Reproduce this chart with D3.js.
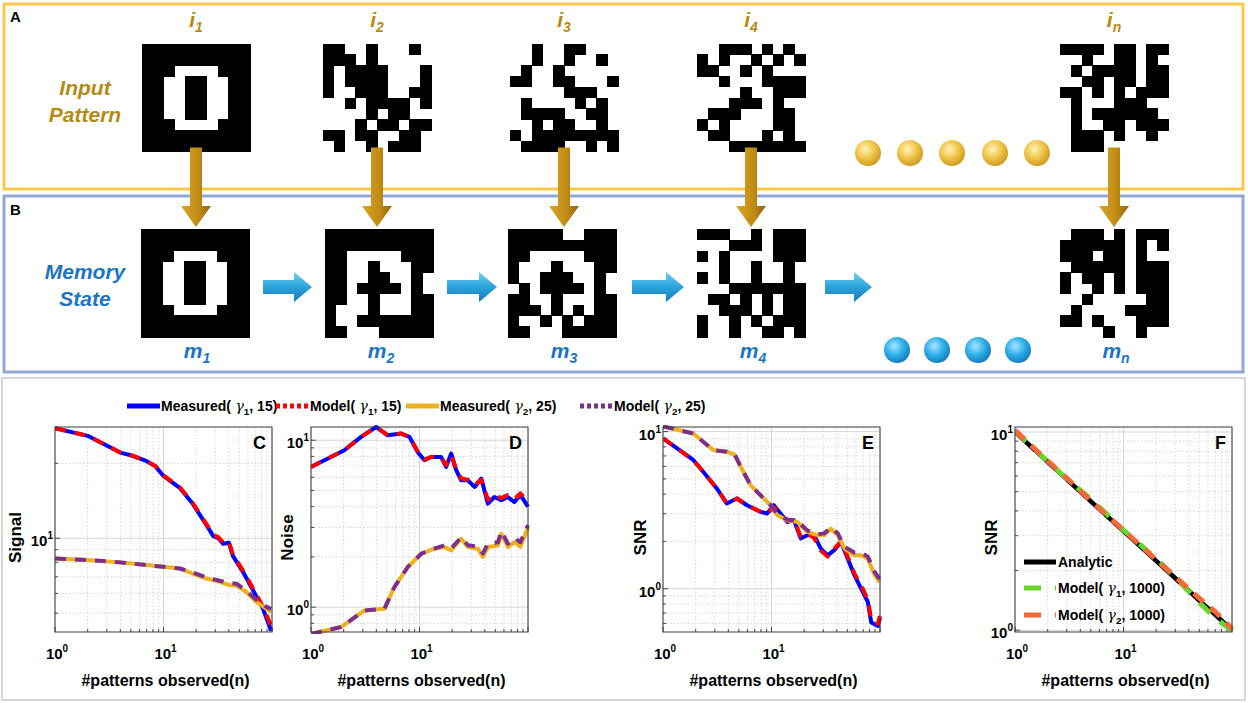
<!DOCTYPE html>
<html>
<head>
<meta charset="utf-8">
<script src="https://cdn.jsdelivr.net/npm/d3@7"></script>
<style>
  body { margin: 0; background: #fff; }
  svg { display: block; }
</style>
</head>
<body>
<script>
// ---- pixel patterns (1 = black cell) ----
const patI1 = ["1111111111","1111111111","1110000111","1100110011","1100110011","1100110011","1100110011","1110000111","1111111111","1111111111"];
const patI2 = ["1100100010","1110100000","1011110001","1011110001","1001110011","0010111101","0000101100","0001011011","1101100110","0100101110"];
const patI3 = ["0010011000","0010010010","0100100000","1100110001","0000011100","0100001010","0111100110","0010110010","1011111111","0111100101"];
const patI4 = ["0011101010","1010010101","1100101000","0010001111","0000100111","0001110100","0111000110","1010000110","0110001010","0001111111"];
const patIn = ["1111011011","0010011010","0101111011","0011011011","1101010111","0100011100","0101111110","0100110111","0111010010","0111000000"];
const patM1 = patI1;
const patM2 = ["1111111111","1111111111","1100000111","1100100011","1100110010","1101111010","1100100011","1000100011","1001111111","1100011111"];
const patM3 = ["1111100111","1111111111","1100000111","1000100011","1001110010","0101111010","1100100011","1110101011","1001010111","1100011111"];
const patM4 = ["1110010111","0001110111","1010000111","0010010010","1010010010","0001111111","0110101011","0011101011","1001010111","1001001101"];
const patMn = ["0111010111","1111110101","1110110100","0111110111","1011010111","1001010111","0010000011","0100001111","1101000111","0000100100"];

const topPatterns = [patI1, patI2, patI3, patI4, patIn];
const botPatterns = [patM1, patM2, patM3, patM4, patMn];
const topLabels = ["1", "2", "3", "4", "n"];

// ---- chart data ----
const cN1 = [1, 2, 4, 5.3, 7, 8.4, 10, 14.2, 18.3, 24.9, 28.8, 32, 35.5, 40, 43.6, 54.2, 66.7, 82.7, 98];
const cMeas1 = [27.7, 25.8, 22.1, 21.4, 20.4, 19.5, 17.8, 15.9, 13.9, 11.3, 10.2, 10.0, 9.5, 9.6, 8.5, 7.3, 6.2, 5.2, 4.25];
const cModel1 = [27.7, 25.8, 22.1, 21.4, 20.4, 19.5, 17.9, 16.0, 14.0, 11.4, 10.3, 10.1, 9.6, 9.7, 8.6, 7.4, 6.3, 5.3, 4.45];
const cN2 = [1, 2, 4, 7, 10, 14.2, 18.3, 24.9, 33, 41, 47, 58, 72, 89, 98];
const cMeas2 = [8.30, 8.17, 8.0, 7.8, 7.68, 7.56, 7.22, 6.89, 6.68, 6.47, 6.45, 6.08, 5.54, 5.21, 5.05];
const cModel2 = [8.30, 8.17, 8.0, 7.8, 7.68, 7.56, 7.30, 6.95, 6.75, 6.60, 6.57, 6.15, 5.65, 5.30, 5.20];

const dN1 = [1, 2.03, 2.89, 3.98, 5.1, 6.77, 8.08, 9.6, 11.1, 12.8, 15.8, 17.6, 19.6, 21.8, 24.2, 27.9, 32.3, 37.1, 42.7, 49, 56.8, 65.1, 75, 85, 100];
const dMeas1 = [6.92, 8.71, 10.47, 12.0, 10.7, 10.96, 10.47, 8.51, 7.59, 7.94, 7.94, 6.92, 8.32, 6.61, 5.75, 5.75, 5.25, 5.89, 4.17, 4.57, 4.37, 4.57, 4.26, 4.7, 4.0];
const dModel1 = [6.92, 8.71, 10.47, 12.0, 10.7, 10.96, 10.47, 8.60, 7.65, 7.94, 7.90, 7.10, 8.10, 6.70, 5.90, 5.80, 5.40, 5.80, 4.40, 4.70, 4.50, 4.70, 4.45, 4.8, 4.3];
const dN2 = [1, 1.89, 3.11, 4.75, 5.87, 7.8, 10.4, 13.7, 17, 19.6, 24.2, 27.9, 34.5, 38.4, 42.7, 52.9, 56.8, 65.4, 75, 85, 100];
const dMeas2 = [0.69, 0.76, 0.955, 0.977, 1.32, 1.74, 2.09, 2.24, 2.29, 2.19, 2.57, 2.29, 2.24, 1.995, 2.29, 2.34, 2.75, 2.29, 2.45, 2.3, 3.0];
const dModel2 = [0.69, 0.76, 0.955, 0.977, 1.32, 1.74, 2.09, 2.24, 2.35, 2.25, 2.62, 2.35, 2.30, 2.10, 2.40, 2.45, 2.85, 2.40, 2.60, 2.45, 3.1];

const eN1 = [1, 1.9, 2.35, 3.13, 3.87, 4.8, 5.95, 7.9, 9.1, 10.5, 12.1, 14, 16.1, 18.6, 21.4, 24.7, 28.5, 32.9, 37.9, 43.7, 50.4, 58.1, 67, 77.3, 83, 95.7, 100];
const eMeas1 = [9.06, 6.6, 5.55, 4.35, 3.49, 3.75, 3.4, 3.09, 3.01, 3.4, 3.01, 2.66, 2.73, 2.09, 2.19, 2.19, 1.8, 1.63, 1.76, 1.98, 1.55, 1.22, 1.0, 0.82, 0.61, 0.58, 0.65];
const eModel1 = [9.06, 6.6, 5.55, 4.35, 3.49, 3.75, 3.4, 3.09, 3.0, 3.3, 3.0, 2.70, 2.75, 2.15, 2.25, 2.10, 1.75, 1.60, 1.80, 2.00, 1.60, 1.25, 1.05, 0.85, 0.63, 0.60, 0.67];
const eN2 = [1, 1.9, 2.9, 3.87, 4.6, 5.5, 6.4, 7.9, 9.8, 11.3, 14, 17.3, 21.4, 26.4, 30.5, 35.3, 40.8, 47.1, 58.1, 67, 77.3, 89.3, 99];
const eMeas2 = [10.8, 9.73, 7.63, 7.45, 7.1, 5.55, 4.57, 3.94, 3.4, 2.94, 2.73, 2.66, 2.3, 2.19, 2.19, 2.41, 2.19, 1.8, 1.63, 1.63, 1.55, 1.22, 1.1];
const eModel2 = [10.8, 9.73, 7.63, 7.45, 7.1, 5.55, 4.57, 3.94, 3.4, 2.98, 2.76, 2.70, 2.35, 2.22, 2.25, 2.45, 2.25, 1.85, 1.70, 1.70, 1.60, 1.28, 1.15];

const fN = [1, 2, 3, 5, 10, 20, 30, 50, 70, 100];
const fAnalytic = [10, 7.07, 5.77, 4.47, 3.16, 2.24, 1.83, 1.41, 1.20, 1.00];
const fModel1 = [10.1, 7.10, 5.80, 4.60, 3.20, 2.30, 1.85, 1.38, 1.15, 1.00];
const fModel2 = [10.2, 7.15, 5.85, 4.50, 3.20, 2.27, 1.86, 1.45, 1.24, 1.02];

const xTicks = [1, 10];

// ---- page ----
const W = 1248, H = 703;
const FONT = "'Liberation Sans', Arial, sans-serif";
const gold = "#B58A14", blueTxt = "#1B75C4";

const svg = d3.select("body").append("svg")
    .attr("width", W).attr("height", H)
    .style("font-family", FONT);

const defs = svg.append("defs");
function linGrad(id, x2, y2, stops) {
    const g = defs.append("linearGradient").attr("id", id)
        .attr("x1", 0).attr("y1", 0).attr("x2", x2).attr("y2", y2);
    stops.forEach(s => g.append("stop").attr("offset", s[0]).attr("stop-color", s[1]));
}
function radGrad(id, stops) {
    const g = defs.append("radialGradient").attr("id", id)
        .attr("cx", "40%").attr("cy", "35%").attr("r", "70%");
    stops.forEach(s => g.append("stop").attr("offset", s[0]).attr("stop-color", s[1]));
}
linGrad("goldArrow", 1, 0, [[0, "#D9A624"], [0.6, "#C08A14"], [1, "#8F6410"]]);
linGrad("blueArrow", 0, 1, [[0, "#6FD0F3"], [0.5, "#2BA3DC"], [1, "#1679B8"]]);
radGrad("goldBall", [[0, "#FFF2B8"], [0.5, "#F0C64A"], [1, "#C9951A"]]);
radGrad("blueBall", [[0, "#A8E6FF"], [0.5, "#2FB1EA"], [1, "#1276B8"]]);

// panel boxes
svg.append("rect").attr("x", 4).attr("y", 4).attr("width", 1239).attr("height", 185)
    .attr("fill", "none").attr("stroke", "#F8C94A").attr("stroke-width", 3);
svg.append("rect").attr("x", 4).attr("y", 196).attr("width", 1239).attr("height", 176)
    .attr("fill", "none").attr("stroke", "#8FA8D6").attr("stroke-width", 3);
svg.append("rect").attr("x", 2).attr("y", 378).attr("width", 1243).attr("height", 322)
    .attr("fill", "none").attr("stroke", "#D6D6D6").attr("stroke-width", 2);

svg.append("text").attr("x", 10).attr("y", 22).text("A")
    .attr("font-weight", "bold").attr("font-size", 15);
svg.append("text").attr("x", 10).attr("y", 215).text("B")
    .attr("font-weight", "bold").attr("font-size", 15);

function twoLine(lines, cx, y0, color) {
    const t = svg.append("text").attr("text-anchor", "middle")
        .attr("font-weight", "bold").attr("font-style", "italic")
        .attr("font-size", 21).attr("fill", color);
    lines.forEach((s, i) => t.append("tspan").attr("x", cx).attr("y", y0 + i * 27).text(s));
}
twoLine(["Input", "Pattern"], 85, 95, gold);
twoLine(["Memory", "State"], 85, 279, blueTxt);

// pixel pattern drawing
const CELL_SIZE = 108;
function drawPattern(rows, x0, y0) {
    const band = d3.scaleBand().domain(d3.range(rows.length)).range([0, CELL_SIZE]);
    const cells = [];
    rows.forEach((r, i) => r.split("").forEach((c, j) => { if (c === "1") cells.push({ i, j }); }));
    const g = svg.append("g").attr("transform", `translate(${x0},${y0})`)
        .attr("shape-rendering", "crispEdges");
    g.selectAll("rect").data(cells).join("rect")
        .attr("x", d => band(d.j)).attr("y", d => band(d.i))
        .attr("width", band.bandwidth() + 0.6).attr("height", band.bandwidth() + 0.6)
        .attr("fill", "#000");
}

const topX = [142, 323, 510, 697, 1060];
const botX = [141, 325, 508, 697, 1060];
const topY = 43.5, botY = 229;

topPatterns.forEach((p, k) => drawPattern(p, topX[k], topY));
botPatterns.forEach((p, k) => drawPattern(p, botX[k], botY));

// gold down arrows
topX.forEach(x0 => {
    const cx = x0 + CELL_SIZE / 2;
    const p = d3.path();
    p.moveTo(cx - 6, topY + CELL_SIZE - 4);
    p.lineTo(cx + 6, topY + CELL_SIZE - 4);
    p.lineTo(cx + 6, 206);
    p.lineTo(cx + 15, 206);
    p.lineTo(cx, 227);
    p.lineTo(cx - 15, 206);
    p.lineTo(cx - 6, 206);
    p.closePath();
    svg.append("path").attr("d", p.toString()).attr("fill", "url(#goldArrow)");
});

// blue right arrows
const rightArrows = [[263, 312], [447, 497], [632, 684], [825, 872]];
rightArrows.forEach(([a, b]) => {
    const cy = 287;
    const p = d3.path();
    p.moveTo(a, cy - 7);
    p.lineTo(b - 18, cy - 7);
    p.lineTo(b - 18, cy - 15);
    p.lineTo(b, cy);
    p.lineTo(b - 18, cy + 15);
    p.lineTo(b - 18, cy + 7);
    p.lineTo(a, cy + 7);
    p.closePath();
    svg.append("path").attr("d", p.toString()).attr("fill", "url(#blueArrow)");
});

// dots
[868, 910, 952, 995, 1037].forEach(x => svg.append("circle")
    .attr("cx", x).attr("cy", 153).attr("r", 13).attr("fill", "url(#goldBall)"));
[897, 937, 978, 1018].forEach(x => svg.append("circle")
    .attr("cx", x).attr("cy", 350).attr("r", 13).attr("fill", "url(#blueBall)"));

// i / m labels
function subLabel(letter, sub, cx, y, color) {
    const t = svg.append("text").attr("x", cx).attr("y", y).attr("text-anchor", "middle")
        .attr("font-weight", "bold").attr("font-style", "italic")
        .attr("font-size", 21).attr("fill", color);
    t.append("tspan").text(letter);
    t.append("tspan").text(sub).attr("font-size", 14).attr("dy", 5);
}
topX.forEach((x0, k) => subLabel("i", topLabels[k], x0 + CELL_SIZE / 2, 27, gold));
botX.forEach((x0, k) => subLabel("m", topLabels[k], x0 + CELL_SIZE / 2 + 2, 358, blueTxt));

// ---- charts ----
const plotTop = 427, plotBottom = 632, plotW = 217;

function gammaText(t, pre, sub, post, size) {
    t.append("tspan").text(pre);
    t.append("tspan").text(" γ").attr("font-style", "italic").attr("font-weight", "normal")
        .attr("font-family", "'DejaVu Serif', serif");
    t.append("tspan").text(sub).attr("font-size", size * 0.7).attr("dy", 4);
    t.append("tspan").text(post).attr("dy", -4);
}

function powLabel(t, v) {
    t.append("tspan").text("10");
    t.append("tspan").text(String(Math.round(Math.log10(v))))
        .attr("font-size", 10).attr("dy", -7);
}

function logVals(dom) {
    const out = [];
    for (let e = -1; e <= 2; e++) {
        for (let k = 1; k < 10; k++) {
            const v = +(k * Math.pow(10, e)).toPrecision(6);
            if (v >= dom[0] - 1e-9 && v <= dom[1] + 1e-9) out.push({ v, major: k === 1 });
        }
    }
    return out;
}

let clipId = 0;
function drawChart(c) {
    const x = d3.scaleLog().domain([1, 100]).range([c.left, c.left + plotW]);
    const y = d3.scaleLog().domain(c.yDomain).range([plotBottom, plotTop]);
    const g = svg.append("g");

    // grid
    const xv = logVals(x.domain()), yv = logVals(y.domain());
    g.selectAll(".gx").data(xv).join("line")
        .attr("x1", d => x(d.v)).attr("x2", d => x(d.v))
        .attr("y1", plotTop).attr("y2", plotBottom)
        .attr("stroke", "#D6D6D6").attr("stroke-width", 1)
        .attr("stroke-dasharray", d => d.major ? null : "1.5,2");
    g.selectAll(".gy").data(yv).join("line")
        .attr("y1", d => y(d.v)).attr("y2", d => y(d.v))
        .attr("x1", c.left).attr("x2", c.left + plotW)
        .attr("stroke", "#D6D6D6").attr("stroke-width", 1)
        .attr("stroke-dasharray", d => d.major ? null : "1.5,2");

    // ticks inside
    g.selectAll(".tx").data(xv).join("line")
        .attr("x1", d => x(d.v)).attr("x2", d => x(d.v))
        .attr("y1", plotBottom).attr("y2", d => plotBottom - (d.major ? 5 : 3))
        .attr("stroke", "#444");
    g.selectAll(".ty").data(yv).join("line")
        .attr("y1", d => y(d.v)).attr("y2", d => y(d.v))
        .attr("x1", c.left).attr("x2", d => c.left + (d.major ? 5 : 3))
        .attr("stroke", "#444");

    // series
    const id = "clip" + (clipId++);
    defs.append("clipPath").attr("id", id).append("rect")
        .attr("x", c.left).attr("y", plotTop - 2).attr("width", plotW + 2).attr("height", plotBottom - plotTop + 4);
    const line = d3.line().x(d => x(d[0])).y(d => y(d[1]));
    const lg = g.append("g").attr("clip-path", `url(#${id})`);
    c.series.forEach(s => {
        lg.append("path").datum(d3.zip(s.n, s.v))
            .attr("d", line)
            .attr("fill", "none")
            .attr("stroke", s.color)
            .attr("stroke-width", s.width || 4)
            .attr("stroke-dasharray", s.dash || null)
            .attr("stroke-linejoin", "round");
    });

    // box
    g.append("rect").attr("x", c.left).attr("y", plotTop)
        .attr("width", plotW).attr("height", plotBottom - plotTop)
        .attr("fill", "none").attr("stroke", "#3a3a3a").attr("stroke-width", 1);

    // tick labels
    xTicks.forEach(v => {
        const t = g.append("text").attr("x", x(v) + 2).attr("y", plotBottom + 27)
            .attr("text-anchor", "middle").attr("font-size", 15).attr("font-weight", "bold");
        powLabel(t, v);
    });
    c.yTicks.forEach(v => {
        const t = g.append("text").attr("x", c.left - 2).attr("y", y(v) + 8)
            .attr("text-anchor", "end").attr("font-size", 15).attr("font-weight", "bold");
        powLabel(t, v);
    });

    // titles
    g.append("text").attr("x", c.left + plotW / 2 + 2).attr("y", 686)
        .attr("text-anchor", "middle").attr("font-size", 16).attr("font-weight", "bold")
        .text("#patterns observed(n)");
    g.append("text").attr("transform", `translate(${c.yLabelX},${(plotTop + plotBottom) / 2 + 8}) rotate(-90)`)
        .attr("text-anchor", "middle").attr("font-size", 17).attr("font-weight", "bold")
        .text(c.yLabel);
    g.append("text").attr("x", c.left + plotW - 6).attr("y", plotTop + 22)
        .attr("text-anchor", "end").attr("font-size", 18).attr("font-weight", "bold")
        .text(c.panel);
    return { x, y, g };
}

const BLUE = "#0000FF", RED = "#FF0000", YEL = "#EDB120", PUR = "#7E2F8E";
const GREEN = "#6BD62A", ORANGE = "#F4683A";
const DASH = "11,9";

drawChart({
    left: 55, yDomain: [4.2, 28], yTicks: [10], yLabel: "Signal", yLabelX: 21, panel: "C",
    series: [
        { n: cN1, v: cMeas1, color: BLUE },
        { n: cN1, v: cModel1, color: RED, dash: DASH },
        { n: cN2, v: cMeas2, color: YEL },
        { n: cN2, v: cModel2, color: PUR, dash: DASH }
    ]
});
drawChart({
    left: 311, yDomain: [0.71, 12], yTicks: [1, 10], yLabel: "Noise", yLabelX: 293, panel: "D",
    series: [
        { n: dN1, v: dMeas1, color: BLUE },
        { n: dN1, v: dModel1, color: RED, dash: DASH },
        { n: dN2, v: dMeas2, color: YEL },
        { n: dN2, v: dModel2, color: PUR, dash: DASH }
    ]
});
drawChart({
    left: 663, yDomain: [0.53, 10.7], yTicks: [1, 10], yLabel: "SNR", yLabelX: 646, panel: "E",
    series: [
        { n: eN1, v: eMeas1, color: BLUE },
        { n: eN1, v: eModel1, color: RED, dash: DASH },
        { n: eN2, v: eMeas2, color: YEL },
        { n: eN2, v: eModel2, color: PUR, dash: DASH }
    ]
});
const chartF = drawChart({
    left: 1015, yDomain: [0.98, 10.6], yTicks: [1, 10], yLabel: "SNR", yLabelX: 997, panel: "F",
    series: [
        { n: fN, v: fAnalytic, color: "#000", width: 4.5 },
        { n: fN, v: fModel1, color: GREEN, dash: "15,13", width: 5 },
        { n: fN, v: fModel2, color: ORANGE, dash: "13,9", width: 5 }
    ]
});

// legend inside F
const fLeg = [
    { color: "#000", dash: null, y: 562, label: ["Analytic"] },
    { color: GREEN, dash: "17,14", y: 588, label: ["Model(", "1", ", 1000)"] },
    { color: ORANGE, dash: "17,14", y: 615, label: ["Model(", "2", ", 1000)"] }
];
fLeg.forEach(it => {
    chartF.g.append("line").attr("x1", 1024).attr("x2", 1056).attr("y1", it.y).attr("y2", it.y)
        .attr("stroke", it.color).attr("stroke-width", 5).attr("stroke-dasharray", it.dash);
    const t = chartF.g.append("text").attr("x", 1058).attr("y", it.y + 5)
        .attr("font-size", 14).attr("font-weight", "bold");
    if (it.label.length === 1) t.text(it.label[0]);
    else gammaText(t, it.label[0], it.label[1], it.label[2], 14);
});

// top legend
const legendItems = [
    { color: BLUE, dash: null, pre: "Measured(", sub: "1", post: ", 15)", x: 127 },
    { color: RED, dash: "4,3", pre: "Model(", sub: "1", post: ", 15)", x: 276 },
    { color: YEL, dash: null, pre: "Measured(", sub: "2", post: ", 25)", x: 406 },
    { color: PUR, dash: "4,3", pre: "Model(", sub: "2", post: ", 25)", x: 580 }
];
legendItems.forEach(it => {
    svg.append("line").attr("x1", it.x).attr("x2", it.x + 33).attr("y1", 406).attr("y2", 406)
        .attr("stroke", it.color).attr("stroke-width", 5).attr("stroke-dasharray", it.dash);
    const t = svg.append("text").attr("x", it.x + 34).attr("y", 411)
        .attr("font-size", 14).attr("font-weight", "bold");
    gammaText(t, it.pre, it.sub, it.post, 14);
});
</script>
</body>
</html>
